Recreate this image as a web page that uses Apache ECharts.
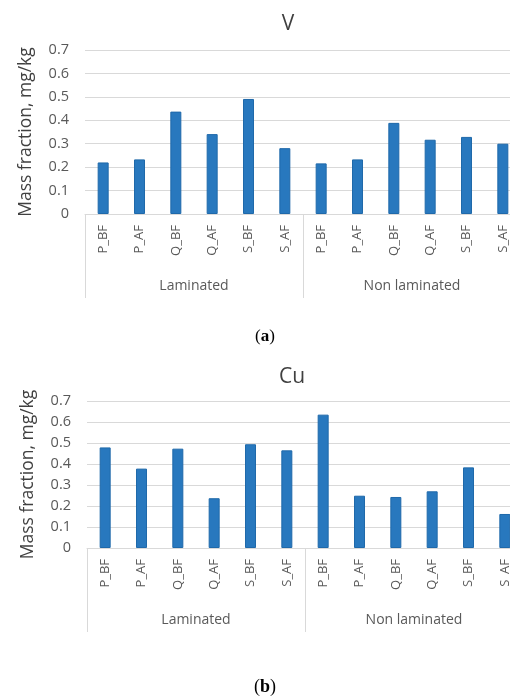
<!DOCTYPE html>
<html>
<head>
<meta charset="utf-8">
<script src="https://cdn.jsdelivr.net/npm/echarts@6/dist/echarts.min.js"></script>
<style>
  html, body { margin: 0; padding: 0; background: #fff; }
  #chart { width: 510px; height: 699px; }
</style>
</head>
<body>
<div id="chart"></div>
<script>
// Sample labels and their groups
const categories = ['P_BF', 'P_AF', 'Q_BF', 'Q_AF', 'S_BF', 'S_AF',
                    'P_BF', 'P_AF', 'Q_BF', 'Q_AF', 'S_BF', 'S_AF'];
const groups = ['Laminated', 'Non laminated'];

// Mass fraction, mg/kg
const valuesV  = [0.220, 0.233, 0.437, 0.341, 0.491, 0.281,
                  0.216, 0.233, 0.389, 0.317, 0.329, 0.300];
const valuesCu = [0.479, 0.378, 0.473, 0.237, 0.494, 0.465,
                  0.635, 0.249, 0.243, 0.270, 0.384, 0.162];

const yTicks = { min: 0, max: 0.7, interval: 0.1 };
const panelTitles = ['V', 'Cu'];
const panelTags = ['a', 'b'];

const FONT = '"Open Sans", "Noto Sans", sans-serif';
const SERIF = '"Liberation Serif", serif';
const GRID_COLOR = '#d9d9d9';
const BAR_COLOR = '#2878be';

const gridDefs = [
  { left: 85, top: 50, width: 436, height: 164 },
  { left: 87, top: 401, width: 436, height: 147 }
];

const grids = [], xAxes = [], yAxes = [], series = [];
gridDefs.forEach((g, i) => {
  grids.push(Object.assign({ containLabel: false, outerBoundsMode: 'none' }, g));
  // sample axis
  xAxes.push({
    type: 'category', gridIndex: i, data: categories,
    axisLine: { lineStyle: { color: GRID_COLOR, width: 1 } },
    axisTick: { show: false },
    axisLabel: { rotate: 90, margin: 11, fontSize: 13, color: '#595959', fontFamily: FONT, interval: 0 }
  });
  // group axis with divider ticks
  xAxes.push({
    type: 'category', gridIndex: i, data: groups, position: 'bottom',
    axisLine: { show: false },
    axisTick: { show: true, length: 84, alignWithLabel: false, lineStyle: { color: GRID_COLOR } },
    axisLabel: { margin: 65, fontSize: 14, color: '#595959', fontFamily: FONT }
  });
  yAxes.push({
    type: 'value', gridIndex: i, min: yTicks.min, max: yTicks.max, interval: yTicks.interval,
    name: 'Mass fraction, mg/kg', nameLocation: 'middle', nameGap: 50,
    nameTextStyle: { fontSize: 17.5, color: '#404040', fontFamily: FONT },
    axisLine: { show: false }, axisTick: { show: false },
    axisLabel: { margin: 16, fontSize: 14.5, color: '#595959', fontFamily: FONT,
                 formatter: v => (Math.round(v * 10) / 10).toString() },
    splitLine: { lineStyle: { color: GRID_COLOR, width: 1 } }
  });
  series.push({
    type: 'bar', xAxisIndex: i * 2, yAxisIndex: i,
    data: i === 0 ? valuesV : valuesCu,
    barWidth: 11,
    itemStyle: { color: BAR_COLOR, borderColor: '#1f69aa', borderWidth: 1 },
    animation: false
  });
});

const chart = echarts.init(document.getElementById('chart'), null, { renderer: 'canvas' });
chart.setOption({
  animation: false,
  title: [
    { text: panelTitles[0], left: 283, top: 9, textAlign: 'center',
      textStyle: { fontSize: 21, fontWeight: 'normal', color: '#404040', fontFamily: FONT } },
    { text: panelTitles[1], left: 287, top: 362, textAlign: 'center',
      textStyle: { fontSize: 21, fontWeight: 'normal', color: '#404040', fontFamily: FONT } },
    { text: '({a|' + panelTags[0] + '})', left: 265, top: 328, textAlign: 'center', padding: 0,
      textStyle: { fontSize: 17, fontWeight: 'normal', color: '#000', fontFamily: SERIF,
                   rich: { a: { fontSize: 17, fontWeight: 'bold', fontFamily: SERIF } } } },
    { text: '({b|' + panelTags[1] + '})', left: 265, top: 678, textAlign: 'center', padding: 0,
      textStyle: { fontSize: 18, fontWeight: 'normal', color: '#000', fontFamily: SERIF,
                   rich: { b: { fontSize: 18, fontWeight: 'bold', fontFamily: SERIF } } } }
  ],
  grid: grids,
  xAxis: xAxes,
  yAxis: yAxes,
  series: series
});
</script>
</body>
</html>
